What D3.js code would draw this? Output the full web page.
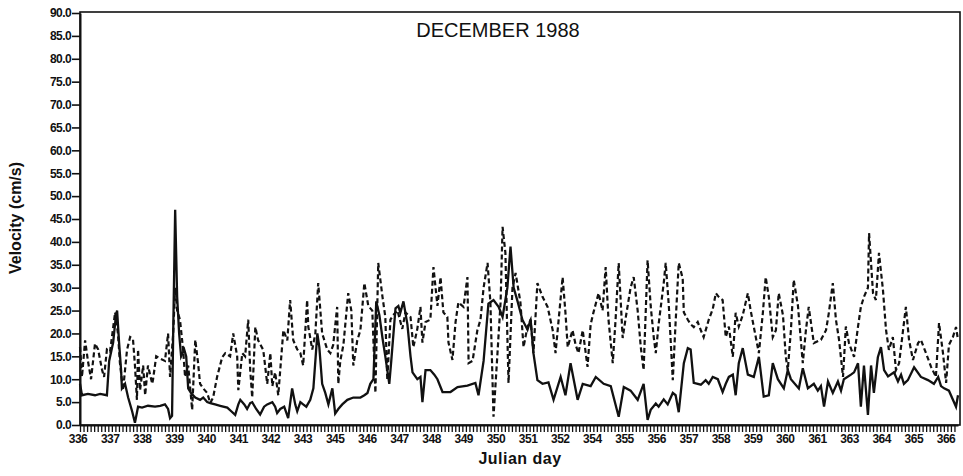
<!DOCTYPE html>
<html>
<head>
<meta charset="utf-8">
<script src="https://cdn.jsdelivr.net/npm/d3@7"></script>
<style>
  body { margin: 0; background: #fff; }
  text { font-family: "Liberation Sans", Arial, sans-serif; fill: #111; }
</style>
</head>
<body>
<div id="grafico"></div>
<script>
// Rótulos do eixo X (como aparecem no original)
const rotulosDias = ['336','337','338','339','340','341','342','343','345','346','347','348','349','350',
                     '351','352','354','355','356','357','358','359','360','361','363','364','365','366'];

// Marcas do eixo Y
const marcasY = d3.range(0, 90.1, 5);

// Série contínua: [dia juliano, velocidade]
const serieSolida = [
  [336.00, 9], [336.07, 6.5], [336.28, 6.8], [336.53, 6.5], [336.71, 6.8], [336.95, 6.5], [337.03, 14],
  [337.17, 18], [337.27, 24], [337.31, 25], [337.38, 18], [337.45, 12], [337.48, 8], [337.59, 9],
  [337.70, 6], [337.84, 3], [337.94, 0.5], [338.05, 4], [338.19, 3.8], [338.40, 4.2], [338.65, 4],
  [338.83, 4.2], [339.00, 4.5], [339.11, 3.5], [339.18, 1.5], [339.25, 2], [339.29, 20], [339.36, 47],
  [339.43, 28], [339.50, 20], [339.57, 15], [339.68, 16.5], [339.75, 15], [339.82, 8], [339.92, 7],
  [340.07, 6], [340.24, 5.5], [340.35, 6], [340.49, 5], [340.60, 4.8], [340.77, 4.5], [340.95, 4.2],
  [341.20, 3.8], [341.34, 3], [341.48, 2.2], [341.59, 4.5], [341.66, 5.5], [341.80, 4.5], [341.90, 3.5],
  [342.01, 4.8], [342.08, 5], [342.22, 3.5], [342.36, 2.3], [342.50, 4], [342.61, 4.5], [342.79, 5],
  [342.89, 4], [342.96, 2.6], [343.07, 3.5], [343.21, 4], [343.35, 1.5], [343.49, 8], [343.60, 4.5],
  [343.67, 3], [343.78, 5], [343.88, 4.5], [343.99, 4], [344.13, 5.5], [344.24, 8], [344.31, 14],
  [344.38, 20], [344.45, 17], [344.55, 9], [344.66, 7], [344.77, 4.5], [344.91, 8], [345.01, 2.5],
  [345.12, 3.5], [345.26, 4.5], [345.44, 5.5], [345.65, 6], [345.90, 6], [346.04, 6.5], [346.15, 7],
  [346.25, 9], [346.36, 10], [346.46, 27], [346.57, 24], [346.68, 19], [346.78, 15], [346.85, 12],
  [346.92, 9], [346.99, 14], [347.14, 25.5], [347.24, 26], [347.31, 24.5], [347.42, 27], [347.56, 22],
  [347.67, 15], [347.74, 11.5], [347.91, 10], [348.02, 10.5], [348.09, 5], [348.20, 12], [348.37, 12],
  [348.51, 11], [348.62, 10], [348.80, 7.2], [349.08, 7.2], [349.33, 8.3], [349.68, 8.6], [349.96, 9.2],
  [350.07, 6.5], [350.25, 14], [350.42, 26.5], [350.60, 27.3], [350.78, 25.8], [350.92, 23.6],
  [351.09, 30], [351.20, 39], [351.31, 30], [351.45, 27], [351.62, 23], [351.80, 20.8], [351.91, 23],
  [352.01, 15.7], [352.15, 9.8], [352.33, 9], [352.54, 9.3], [352.72, 5.5], [352.97, 10.5], [353.14, 6.5],
  [353.32, 13.5], [353.57, 5.5], [353.75, 9], [354.03, 8.5], [354.21, 10.5], [354.49, 9], [354.74, 8.5],
  [355.02, 1.8], [355.20, 8.3], [355.44, 7.5], [355.69, 5.5], [355.90, 9], [356.04, 1.1], [356.15, 3.3],
  [356.33, 4.7], [356.43, 4], [356.61, 5.6], [356.75, 4.5], [356.93, 7], [357.03, 6.5], [357.14, 2.8],
  [357.32, 13.5], [357.46, 16.8], [357.56, 16.5], [357.67, 9.2], [357.92, 8.8], [358.09, 9.8], [358.20, 9],
  [358.34, 10.5], [358.52, 10], [358.69, 7.2], [358.80, 9], [358.91, 10.5], [359.05, 11], [359.15, 6.5],
  [359.26, 13.5], [359.40, 16.8], [359.58, 11], [359.79, 10.5], [359.97, 14.9], [360.14, 6.2],
  [360.32, 6.5], [360.46, 13.5], [360.64, 10], [360.85, 8], [360.99, 12], [361.10, 10], [361.38, 8],
  [361.52, 12.4], [361.70, 8], [361.91, 9], [362.05, 7.5], [362.16, 8.5], [362.27, 4], [362.41, 9.5],
  [362.58, 7], [362.76, 9.5], [362.87, 7.5], [362.97, 10], [363.22, 11], [363.33, 11.5], [363.47, 13.5],
  [363.57, 4], [363.68, 13], [363.82, 2.2], [363.93, 13], [364.03, 7], [364.17, 14.8], [364.28, 17],
  [364.39, 12], [364.53, 10.6], [364.74, 11.5], [364.88, 9.5], [364.99, 11], [365.09, 9], [365.23, 9.8],
  [365.45, 12.6], [365.69, 10.5], [365.94, 9.8], [366.15, 9], [366.30, 10.5], [366.40, 8.5], [366.51, 8],
  [366.68, 7.5], [366.93, 4], [367.00, 6.5]
];

// Série tracejada: [dia juliano, velocidade]
const serieTracejada = [
  [336.00, 17], [336.07, 10.5], [336.18, 18.5], [336.28, 14], [336.39, 10], [336.53, 17.8], [336.64, 16.5],
  [336.78, 12], [336.85, 10.5], [336.95, 16.5], [337.06, 16], [337.24, 24.6], [337.34, 20], [337.41, 13.5],
  [337.52, 7.6], [337.66, 16.4], [337.77, 19.2], [337.87, 18.8], [337.94, 13], [338.01, 5.5], [338.05, 16.5],
  [338.12, 7.6], [338.23, 13], [338.30, 6.5], [338.40, 13], [338.55, 9], [338.58, 10], [338.69, 15],
  [338.83, 14.5], [339.00, 14], [339.11, 20], [339.18, 10.5], [339.29, 20], [339.36, 30], [339.43, 25],
  [339.53, 23], [339.64, 16.5], [339.71, 10.5], [339.82, 13], [339.96, 3.3], [340.07, 18.6], [340.17, 13.5],
  [340.24, 9], [340.35, 8], [340.49, 7], [340.60, 4.8], [340.70, 6], [340.84, 10.5], [341.02, 14.8],
  [341.13, 15.7], [341.30, 15], [341.41, 20], [341.55, 15], [341.59, 7.6], [341.73, 15.7], [341.83, 15],
  [341.94, 23], [342.01, 12], [342.08, 6], [342.19, 21.4], [342.29, 18.5], [342.47, 16.4], [342.61, 9],
  [342.72, 15.7], [342.79, 8.5], [342.89, 11.5], [343.00, 6.5], [343.18, 20.7], [343.32, 18.5],
  [343.42, 27.3], [343.53, 18.5], [343.67, 16.5], [343.78, 15.7], [343.88, 13], [344.02, 27.3],
  [344.06, 21.5], [344.20, 16.5], [344.31, 20], [344.41, 31], [344.55, 20], [344.73, 16.5], [344.84, 15.7],
  [344.94, 17.5], [345.08, 25.8], [345.12, 9], [345.19, 14], [345.30, 17.5], [345.47, 28.8], [345.58, 25],
  [345.65, 13], [345.79, 18.5], [345.90, 20.7], [346.04, 31], [346.18, 26], [346.32, 25], [346.43, 7],
  [346.53, 35.4], [346.68, 28], [346.78, 23.6], [346.85, 9.8], [346.96, 23], [347.06, 24], [347.21, 25],
  [347.38, 21], [347.49, 24.6], [347.67, 23.6], [347.77, 17], [347.91, 21], [348.02, 25.8], [348.09, 18],
  [348.20, 22.5], [348.37, 23], [348.48, 34.5], [348.62, 26], [348.73, 32.3], [348.83, 24.6],
  [348.97, 23.6], [349.01, 18], [349.15, 14.2], [349.26, 22.5], [349.36, 26.8], [349.54, 25.8],
  [349.68, 32.3], [349.72, 13.5], [349.86, 14], [350.03, 20.7], [350.14, 23], [350.25, 30], [350.39, 35.4],
  [350.49, 26.8], [350.60, 1.8], [350.74, 15.7], [350.85, 26.8], [350.92, 43.3], [351.02, 37.6],
  [351.09, 19.2], [351.13, 9.2], [351.27, 30], [351.38, 33.2], [351.55, 26.8], [351.66, 17], [351.80, 21.5],
  [351.91, 23], [352.01, 15.7], [352.15, 31], [352.33, 28], [352.51, 25.8], [352.69, 20.7], [352.79, 15.7],
  [352.90, 23], [353.04, 32.3], [353.14, 24.5], [353.22, 17], [353.39, 20.7], [353.50, 17.5], [353.60, 15.7],
  [353.75, 20.7], [353.92, 12.7], [354.03, 22], [354.13, 24.6], [354.31, 28.8], [354.45, 25], [354.56, 34.5],
  [354.66, 23], [354.81, 13.5], [354.91, 23], [355.02, 35.4], [355.16, 19], [355.27, 23.5], [355.44, 30],
  [355.55, 32.3], [355.69, 25], [355.80, 17], [355.90, 12], [356.04, 36], [356.15, 26], [356.26, 19],
  [356.33, 15.7], [356.43, 22], [356.61, 31], [356.68, 35.4], [356.79, 26], [356.93, 9.8], [357.03, 22.5],
  [357.14, 35.4], [357.28, 32], [357.32, 24.6], [357.46, 23], [357.56, 22], [357.67, 21.4], [357.81, 22.5],
  [357.92, 20.7], [358.02, 19.2], [358.20, 23], [358.34, 25.3], [358.45, 28.8], [358.55, 28], [358.69, 27.3],
  [358.80, 19.2], [358.91, 21.5], [359.05, 14.9], [359.15, 24.5], [359.26, 21.5], [359.40, 24],
  [359.58, 28.8], [359.68, 25], [359.86, 19.2], [359.97, 15.7], [360.11, 24.5], [360.21, 32.3], [360.32, 28],
  [360.46, 19.2], [360.57, 20.7], [360.67, 28.8], [360.82, 24], [360.92, 14.9], [360.99, 12], [361.10, 20.7],
  [361.20, 31.7], [361.35, 26], [361.45, 18.6], [361.52, 13.5], [361.63, 20.7], [361.73, 25.8],
  [361.91, 17.9], [362.16, 18.6], [362.34, 20.7], [362.44, 24.5], [362.58, 31], [362.69, 23], [362.80, 18.6],
  [362.94, 10.5], [363.04, 21.5], [363.15, 17.9], [363.33, 14.9], [363.47, 21.5], [363.57, 25.8], [363.68, 28],
  [363.82, 30], [363.86, 41.9], [364.00, 28.8], [364.10, 27.3], [364.21, 37.6], [364.35, 29.5], [364.46, 20.7],
  [364.56, 16.4], [364.70, 19.2], [364.81, 12], [364.92, 13.5], [365.06, 20.7], [365.16, 25.8], [365.27, 18.6],
  [365.41, 14.2], [365.59, 17.9], [365.69, 18.6], [365.87, 15.7], [366.05, 12.7], [366.22, 10.5],
  [366.33, 22.3], [366.47, 15.7], [366.58, 9.2], [366.68, 17.5], [366.82, 19.2], [366.93, 21.4], [367.00, 18.6]
];

// Configuração do gráfico
const largura = 963;
const altura = 476;
const margem = { topo: 13, direita: 3, baixo: 51, esquerda: 80 };
const larguraPlot = largura - margem.esquerda - margem.direita;
const alturaPlot = altura - margem.topo - margem.baixo;

const svg = d3.select('#grafico')
              .append('svg')
              .attr('width', largura)
              .attr('height', altura);

const g = svg.append('g')
             .attr('transform', `translate(${margem.esquerda}, ${margem.topo})`);

// Escalas
const escalaX = d3.scaleLinear().domain([336, 367]).range([0, larguraPlot - 2]);
const escalaY = d3.scaleLinear().domain([0, 90]).range([alturaPlot, 0]);
const escalaRotulos = d3.scalePoint().domain(rotulosDias).range([-2, larguraPlot - 14]);

// Moldura
g.append('rect')
 .attr('x', 0).attr('y', -1)
 .attr('width', larguraPlot).attr('height', alturaPlot + 1)
 .attr('fill', 'none').attr('stroke', '#111').attr('stroke-width', 1.6);

// Eixo Y
const eixoY = g.append('g')
  .call(d3.axisLeft(escalaY).tickValues(marcasY).tickFormat(d3.format('.1f'))
        .tickSize(8).tickPadding(1).tickSizeOuter(0));
eixoY.select('.domain').attr('stroke', '#111').attr('stroke-width', 2);
eixoY.selectAll('line').attr('stroke', '#111').attr('stroke-width', 1.6);
eixoY.selectAll('text').style('font-size', '12px').style('font-weight', 'bold')
     .style('letter-spacing', '-0.6px');

// Eixo X: marcas pequenas
const eixoX = g.append('g')
  .attr('transform', `translate(0, ${alturaPlot})`)
  .call(d3.axisBottom(escalaX).tickValues(d3.range(336, 367, 0.125)).tickSize(7)
        .tickFormat('').tickSizeOuter(0));
eixoX.select('.domain').attr('stroke', '#111').attr('stroke-width', 2.2);
eixoX.selectAll('line').attr('stroke', '#111').attr('stroke-width', 1.3);

// Rótulos dos dias
g.append('g').selectAll('text')
 .data(rotulosDias)
 .enter()
 .append('text')
 .attr('x', d => escalaRotulos(d))
 .attr('y', alturaPlot + 18)
 .attr('text-anchor', 'middle')
 .style('font-size', '12px')
 .style('font-weight', 'bold')
 .style('letter-spacing', '-0.5px')
 .text(d => d);

// Linhas
const linha = d3.line()
  .x(d => escalaX(d[0]))
  .y(d => escalaY(d[1]));

g.append('path')
 .datum(serieTracejada)
 .attr('d', linha)
 .attr('fill', 'none')
 .attr('stroke', '#111')
 .attr('stroke-width', 2.2)
 .attr('stroke-dasharray', '5,3');

g.append('path')
 .datum(serieSolida)
 .attr('d', linha)
 .attr('fill', 'none')
 .attr('stroke', '#111')
 .attr('stroke-width', 2.3);

// Título
svg.append('text')
   .attr('x', 498)
   .attr('y', 37)
   .attr('text-anchor', 'middle')
   .style('font-size', '20px')
   .text('DECEMBER 1988');

// Rótulos dos eixos
svg.append('text')
   .attr('x', 520)
   .attr('y', 464)
   .attr('text-anchor', 'middle')
   .style('font-size', '16px')
   .style('font-weight', 'bold')
   .style('letter-spacing', '0.5px')
   .text('Julian day');

svg.append('text')
   .attr('transform', 'translate(21, 218) rotate(-90)')
   .attr('text-anchor', 'middle')
   .style('font-size', '16px')
   .style('font-weight', 'bold')
   .text('Velocity (cm/s)');
</script>
</body>
</html>
